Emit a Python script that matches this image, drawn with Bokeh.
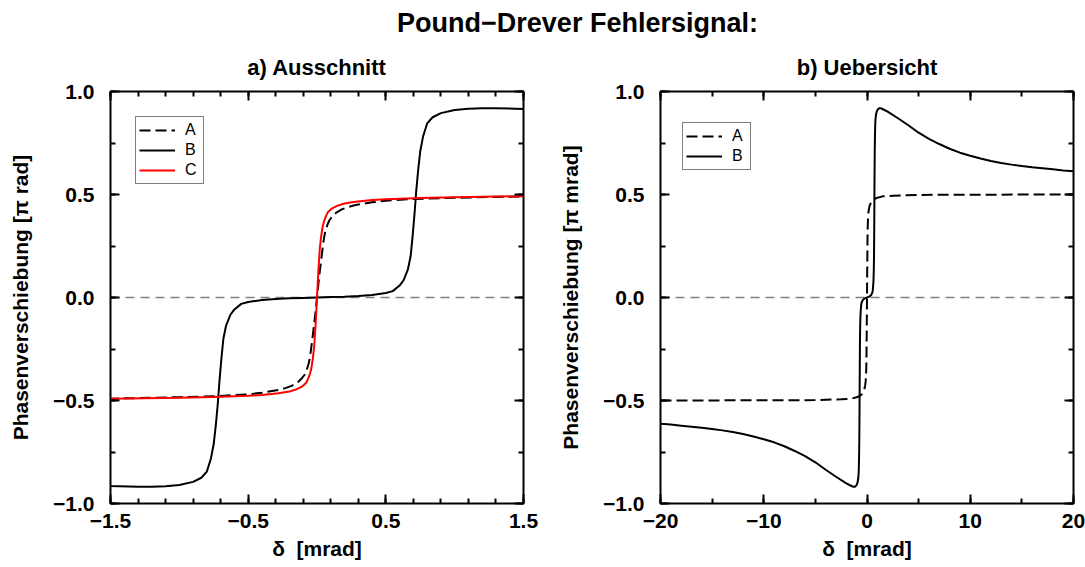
from bokeh.plotting import figure
from bokeh.models import Range1d, FixedTicker, LinearAxis, Span, Label, Legend, LegendItem
from bokeh.layouts import column, row
from bokeh.embed import file_html
from bokeh.resources import INLINE

# ---------------- data ----------------
# Curve A (dashed): phase shift, used in both panels
a_x = [-20, -10, -5, -2.5, -1.5, -1.0, -0.7, -0.5, -0.4, -0.28, -0.23, -0.18, -0.14, -0.11,
       -0.09, -0.075, -0.06, -0.05, -0.04, -0.03, -0.02, -0.01, 0,
       0.01, 0.02, 0.03, 0.04, 0.05, 0.06, 0.075, 0.09, 0.11, 0.14, 0.18, 0.23, 0.28,
       0.4, 0.5, 0.7, 1.0, 1.5, 2.5, 5, 10, 20]
a_y = [-0.500, -0.499, -0.498, -0.494, -0.491, -0.484, -0.478, -0.470, -0.462, -0.449, -0.440,
       -0.428, -0.412, -0.392, -0.375, -0.352, -0.320, -0.285, -0.235, -0.180, -0.125, -0.065, 0,
       0.065, 0.125, 0.180, 0.235, 0.285, 0.320, 0.352, 0.375, 0.392, 0.412, 0.428, 0.440,
       0.449, 0.462, 0.470, 0.478, 0.484, 0.491, 0.494, 0.498, 0.499, 0.500]

# Curve B (solid black), used in both panels
b_x = [-20, -19, -18, -17, -16, -15, -14, -13, -12, -11, -10, -9, -8, -7, -6, -5, -4, -3, -2,
       -1.5, -1.3, -1.2, -1.1, -1.0, -0.9, -0.84, -0.80, -0.77, -0.75, -0.735, -0.72, -0.71,
       -0.695, -0.68, -0.66, -0.63, -0.6, -0.55, -0.5, -0.4, -0.3, -0.2, -0.1, 0,
       0.1, 0.2, 0.3, 0.4, 0.5, 0.55, 0.6, 0.63, 0.66, 0.68, 0.695, 0.71, 0.72, 0.735, 0.75,
       0.77, 0.80, 0.84, 0.9, 1.0, 1.1, 1.2, 1.3, 1.5, 2, 3, 4, 5, 6, 7, 8, 9, 10, 11, 12, 13,
       14, 15, 16, 17, 18, 19, 20]
b_y = [-0.613, -0.617, -0.622, -0.627, -0.632, -0.638, -0.645, -0.653, -0.663, -0.675, -0.688,
       -0.703, -0.722, -0.745, -0.770, -0.800, -0.836, -0.870, -0.902,
       -0.915, -0.919, -0.919, -0.916, -0.910, -0.895, -0.875, -0.845, -0.780, -0.710, -0.620,
       -0.510, -0.420, -0.300, -0.200, -0.135, -0.085, -0.058, -0.031, -0.022, -0.012, -0.007,
       -0.004, -0.002, 0,
       0.002, 0.004, 0.007, 0.012, 0.022, 0.031, 0.058, 0.085, 0.135, 0.200, 0.300, 0.420,
       0.510, 0.620, 0.710, 0.780, 0.845, 0.875, 0.895, 0.910, 0.916, 0.919, 0.919, 0.915,
       0.902, 0.870, 0.836, 0.800, 0.770, 0.745, 0.722, 0.703, 0.688, 0.675, 0.663, 0.653,
       0.645, 0.638, 0.632, 0.627, 0.622, 0.617, 0.613]

# Curve C (red), only in panel a
c_x = [-1.5, -1.0, -0.75, -0.5, -0.4, -0.28, -0.2, -0.15, -0.11, -0.08, -0.065, -0.05, -0.04,
       -0.03, -0.02, -0.01, 0, 0.01, 0.02, 0.03, 0.04, 0.05, 0.065, 0.08, 0.11, 0.15, 0.2,
       0.28, 0.4, 0.5, 0.75, 1.0, 1.5]
c_y = [-0.492, -0.487, -0.483, -0.477, -0.473, -0.465, -0.456, -0.446, -0.433, -0.415, -0.395,
       -0.368, -0.340, -0.295, -0.235, -0.130, 0, 0.130, 0.235, 0.295, 0.340, 0.368, 0.395,
       0.415, 0.433, 0.446, 0.456, 0.465, 0.473, 0.477, 0.483, 0.487, 0.492]

# ticks
y_major = [-1.0, -0.5, 0.0, 0.5, 1.0]
y_minor = [-1.0, -0.75, -0.5, -0.25, 0.0, 0.25, 0.5, 0.75, 1.0]
y_labels = {-1.0: "\u22121.0", -0.5: "\u22120.5", 0.0: "0.0", 0.5: "0.5", 1.0: "1.0"}
xa_major = [-1.5, -0.5, 0.5, 1.5]
xa_minor = [-1.5, -1.3, -1.1, -0.9, -0.7, -0.5, -0.3, -0.1, 0.1, 0.3, 0.5, 0.7, 0.9, 1.1, 1.3, 1.5]
xa_labels = {-1.5: "\u22121.5", -0.5: "\u22120.5", 0.5: "0.5", 1.5: "1.5"}
xb_major = [-20, -10, 0, 10, 20]
xb_minor = [-20, -15, -10, -5, 0, 5, 10, 15, 20]
xb_labels = {-20: "\u221220", -10: "\u221210", 0: "0", 10: "10", 20: "20"}

FONT = "Liberation Sans"


def style_axis(ax, major, minor, overrides, hidden=False):
    ax.ticker = FixedTicker(ticks=major, minor_ticks=minor)
    ax.major_tick_in = 9
    ax.major_tick_out = 0
    ax.minor_tick_in = 5
    ax.minor_tick_out = 0
    ax.major_tick_line_width = 2
    ax.minor_tick_line_width = 2
    ax.major_tick_line_color = "black"
    ax.minor_tick_line_color = "black"
    ax.axis_line_color = None
    ax.major_label_text_font = FONT
    ax.major_label_text_font_style = "bold"
    ax.major_label_text_color = "black"
    ax.major_label_overrides = overrides
    if hidden:
        ax.major_label_text_font_size = "0px"
        ax.major_label_text_alpha = 0
        ax.major_label_standoff = 0
    else:
        ax.major_label_text_font_size = "21px"
    ax.axis_label_text_font = FONT
    ax.axis_label_text_font_style = "bold"
    ax.axis_label_text_font_size = "21px"
    ax.axis_label_text_color = "black"


def make_panel(width, border_left, border_right, xr, xmaj, xmin, xlab, ylabel, subtitle):
    p = figure(width=width, height=527, x_range=Range1d(*xr), y_range=Range1d(-1, 1),
               output_backend="svg", toolbar_location=None,
               min_border_left=border_left, min_border_right=border_right,
               min_border_top=40, min_border_bottom=64)
    p.grid.visible = False
    p.outline_line_color = "black"
    p.outline_line_width = 2
    p.background_fill_color = "white"
    p.border_fill_color = "white"
    p.title.text = subtitle
    p.title.align = "center"
    p.title.text_font = FONT
    p.title.text_font_style = "bold"
    p.title.text_font_size = "22px"
    p.title.text_color = "black"
    p.title.standoff = 24
    style_axis(p.xaxis[0], xmaj, xmin, xlab)
    style_axis(p.yaxis[0], y_major, y_minor, y_labels)
    p.xaxis[0].axis_label = "\u03b4\u00a0\u00a0[mrad]"
    p.xaxis[0].major_label_standoff = 10
    p.xaxis[0].axis_label_standoff = 6
    p.yaxis[0].axis_label = ylabel
    p.yaxis[0].major_label_standoff = 16
    p.yaxis[0].axis_label_standoff = 18
    top = LinearAxis()
    style_axis(top, xmaj, xmin, {}, hidden=True)
    p.add_layout(top, "above")
    right = LinearAxis()
    style_axis(right, y_major, y_minor, {}, hidden=True)
    p.add_layout(right, "right")
    zero = Span(location=0, dimension="width", line_color="#808080", line_width=1.5,
                line_dash="9 6", level="underlay")
    p.add_layout(zero)
    return p


def style_legend(leg, x, y):
    leg.location = (x, y)
    leg.border_line_color = "black"
    leg.border_line_width = 1
    leg.background_fill_alpha = 1
    leg.padding = 3
    leg.spacing = 0
    leg.margin = 0
    leg.glyph_width = 36
    leg.glyph_height = 20
    leg.label_height = 20
    leg.label_width = 15
    leg.label_standoff = 10
    leg.label_text_font = FONT
    leg.label_text_font_size = "16px"
    leg.label_text_color = "black"


# ---------------- panel a ----------------
p1 = make_panel(545, 110, 22, (-1.5, 1.5), xa_major, xa_minor, xa_labels,
                "Phasenverschiebung [\u03c0 rad]", "a) Ausschnitt")
ra1 = p1.line(a_x, a_y, line_color="black", line_width=2, line_dash="11 5")
rb1 = p1.line(b_x, b_y, line_color="black", line_width=2)
rc1 = p1.line(c_x, c_y, line_color="red", line_width=2)
leg1 = Legend(items=[LegendItem(label="A", renderers=[ra1]),
                     LegendItem(label="B", renderers=[rb1]),
                     LegendItem(label="C", renderers=[rc1])])
style_legend(leg1, 25, 319)
p1.add_layout(leg1)

# ---------------- panel b ----------------
p2 = make_panel(540, 115, 12, (-20, 20), xb_major, xb_minor, xb_labels,
                "Phasenverschiebung [\u03c0 mrad]", "b) Uebersicht")
ra2 = p2.line(a_x, a_y, line_color="black", line_width=2, line_dash="11 5")
rb2 = p2.line(b_x, b_y, line_color="black", line_width=2)
leg2 = Legend(items=[LegendItem(label="A", renderers=[ra2]),
                     LegendItem(label="B", renderers=[rb2])])
style_legend(leg2, 22, 333)
p2.add_layout(leg2)

# ---------------- main title ----------------
pt = figure(width=1085, height=40, x_range=Range1d(0, 1085), y_range=Range1d(0, 40),
            x_axis_type=None, y_axis_type=None, output_backend="svg", toolbar_location=None,
            min_border=0)
pt.outline_line_color = None
pt.grid.visible = False
pt.add_layout(Label(x=577, y=18, text="Pound\u2212Drever Fehlersignal:", text_align="center",
                    text_baseline="middle", text_font=FONT, text_font_style="bold",
                    text_font_size="27px", text_color="black"))

layout = column(pt, row(p1, p2, spacing=0), spacing=0)
open("out.html", "w").write(file_html(layout, INLINE))
